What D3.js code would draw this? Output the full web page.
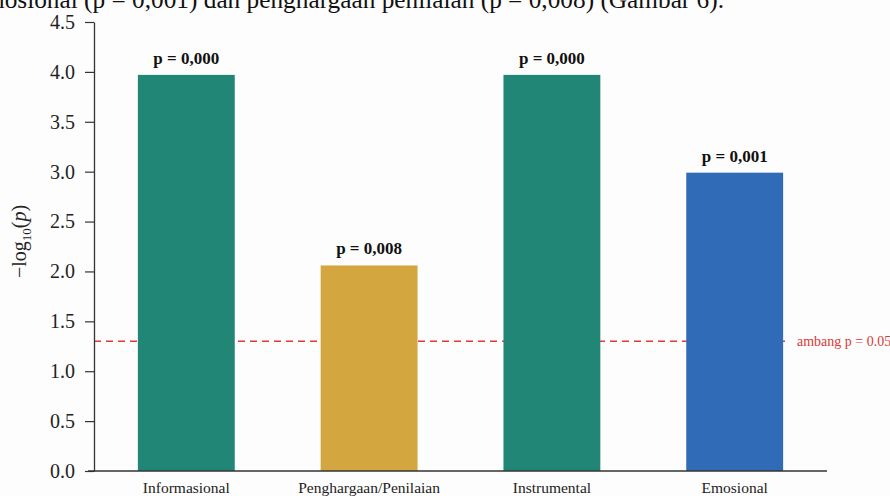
<!DOCTYPE html>
<html>
<head>
<meta charset="utf-8">
<script src="https://cdn.jsdelivr.net/npm/d3@7"></script>
<style>
  html, body { margin: 0; padding: 0; background: #fdfdfd; }
  svg { display: block; }
  text { font-family: "Liberation Serif", "DejaVu Serif", serif; }
</style>
</head>
<body>
<svg id="chart" width="890" height="496"></svg>
<script>
// Support types and their -log10(p) scores
const categories = ["Informasional", "Penghargaan/Penilaian", "Instrumental", "Emosional"];
const scores = [3.97, 2.06, 3.97, 2.99];
const pLabels = ["p = 0,000", "p = 0,008", "p = 0,000", "p = 0,001"];
const barColors = ["#218676", "#d3a63f", "#218676", "#2f6bb7"];
const yTicks = [0, 0.5, 1, 1.5, 2, 2.5, 3, 3.5, 4, 4.5];
const threshold = -Math.log10(0.05);
const thresholdLabel = "ambang p = 0.05";
const captionText = "mosional (p = 0,001) dan penghargaan penilaian (p = 0,008) (Gambar 6).";

const svg = d3.select("#chart");
const margin = { left: 94, right: 827, top: 22, bottom: 471 };

const x = d3.scaleBand()
  .domain(categories)
  .range([margin.left, margin.right])
  .paddingInner(0.47)
  .paddingOuter(0.24);

const y = d3.scaleLinear()
  .domain([0, 4.5])
  .range([margin.bottom, margin.top]);

// Running text line above the figure
svg.append("text")
  .attr("x", 724)
  .attr("y", 8)
  .attr("text-anchor", "end")
  .attr("font-size", 25.3)
  .attr("fill", "#111")
  .text(captionText);

// Threshold line (behind the bars)
svg.append("line")
  .attr("x1", margin.left)
  .attr("x2", 790)
  .attr("y1", y(threshold))
  .attr("y2", y(threshold))
  .attr("stroke", "#e0393a")
  .attr("stroke-width", 1.4)
  .attr("stroke-dasharray", "7,5");

svg.append("text")
  .attr("x", 797)
  .attr("y", y(threshold) + 5)
  .attr("font-size", 14)
  .attr("fill", "#d83a3a")
  .text(thresholdLabel);

// Bars
const data = categories.map((c, i) => ({ c, v: scores[i], label: pLabels[i], color: barColors[i] }));

svg.append("g").selectAll("rect")
  .data(data)
  .join("rect")
  .attr("x", d => x(d.c))
  .attr("width", x.bandwidth())
  .attr("y", d => y(d.v))
  .attr("height", d => y(0) - y(d.v))
  .attr("fill", d => d.color);

// p-value labels above bars
svg.append("g").selectAll("text")
  .data(data)
  .join("text")
  .attr("x", d => x(d.c) + x.bandwidth() / 2)
  .attr("y", d => y(d.v) - 11)
  .attr("text-anchor", "middle")
  .attr("font-size", 17)
  .attr("font-weight", "bold")
  .attr("fill", "#111")
  .text(d => d.label);

// Y axis
const yAxis = d3.axisLeft(y)
  .tickValues(yTicks)
  .tickFormat(d3.format(".1f"))
  .tickSize(9)
  .tickPadding(10)
  .tickSizeOuter(0);

const gy = svg.append("g")
  .attr("transform", `translate(${margin.left},0)`)
  .call(yAxis);
gy.select(".domain").attr("stroke", "#333").attr("stroke-width", 1.3);
gy.selectAll(".tick line").attr("stroke", "#333").attr("stroke-width", 1.2);
gy.selectAll(".tick text")
  .attr("font-family", "Liberation Serif, serif")
  .attr("font-size", 20)
  .attr("fill", "#222");

// X axis
const xAxis = d3.axisBottom(x).tickSize(0).tickPadding(11);
const gx = svg.append("g")
  .attr("transform", `translate(0,${margin.bottom})`)
  .call(xAxis);
gx.select(".domain").attr("stroke", "#333").attr("stroke-width", 1.4)
  .attr("d", `M${margin.left - 6},0H${margin.right}`);
gx.selectAll(".tick text")
  .attr("font-family", "Liberation Serif, serif")
  .attr("font-size", 15.5)
  .attr("fill", "#222");

// Y axis title: -log10(p)
const yTitle = svg.append("text")
  .attr("transform", `translate(26,${y(2.3)}) rotate(-90)`)
  .attr("text-anchor", "middle")
  .attr("font-size", 20)
  .attr("fill", "#222");
yTitle.append("tspan").text("\u2212log");
yTitle.append("tspan").attr("font-size", 13).attr("dy", 5).text("10");
yTitle.append("tspan").attr("dy", -5).text("(");
yTitle.append("tspan").attr("font-style", "italic").text("p");
yTitle.append("tspan").text(")");
</script>
</body>
</html>
